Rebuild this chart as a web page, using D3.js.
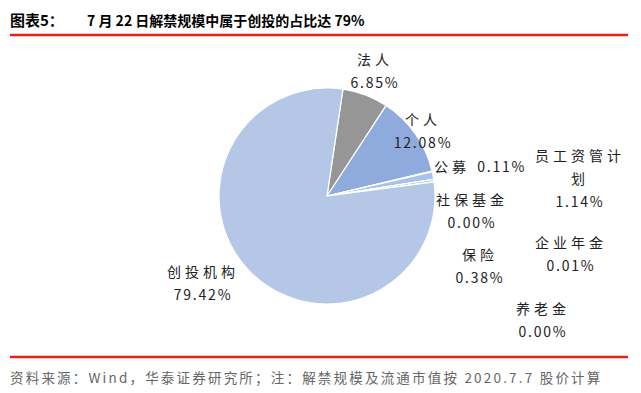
<!DOCTYPE html>
<html lang="zh">
<head>
<meta charset="UTF-8">
<script src="https://d3js.org/d3.v7.min.js"></script>
<style>
    body { margin: 0; background: #fff; }
    svg { display: block; font-family: "Noto Sans CJK SC", sans-serif; }
    .title { font-size: 15px; font-weight: bold; fill: #000; }
    .source { font-size: 13.5px; fill: #666; letter-spacing: 2.2px; }
    .lbl { font-size: 14px; fill: #222; }
    .cjk { letter-spacing: 4px; }
    .num { letter-spacing: 1.8px; }
    .rule { stroke: #e8201a; stroke-width: 2.5; }
</style>
</head>
<body>
<script>
// data
var names = ["法人", "个人", "公募", "员工资管计划", "社保基金", "保险", "企业年金", "养老金", "创投机构"];
var shares = [6.85, 12.08, 0.11, 1.14, 0.00, 0.38, 0.01, 0.00, 79.42];
var labelText = ["6.85%", "12.08%", "0.11%", "1.14%", "0.00%", "0.38%", "0.01%", "0.00%", "79.42%"];
var colors = ["#969696", "#8faadc", "#9db7e2", "#a9c2ea", "#b4c7e7", "#b4c7e7", "#b4c7e7", "#b4c7e7", "#b4c7e7"];

var W = 641, H = 393;
var cx = 327, cy = 196, R = 108;

var svg = d3.select("body").append("svg").attr("width", W).attr("height", H);

svg.append("text").attr("class", "title").attr("x", 10).attr("y", 26).text("图表5：");
svg.append("text").attr("class", "title").attr("x", 87).attr("y", 26)
    .style("font-size", "14px")
    .text("7 月 22 日解禁规模中属于创投的占比达 79%");
svg.append("line").attr("class", "rule").attr("x1", 10).attr("x2", 628).attr("y1", 35).attr("y2", 35);
svg.append("line").attr("class", "rule").attr("x1", 10).attr("x2", 628).attr("y1", 357).attr("y2", 357);
svg.append("text").attr("class", "source").attr("x", 10).attr("y", 383)
    .text("资料来源：Wind，华泰证券研究所；注：解禁规模及流通市值按 2020.7.7 股价计算");

var pie = d3.pie().sort(null).value(function(d) { return d; })
    .startAngle(8.5 * Math.PI / 180).endAngle(368.5 * Math.PI / 180);
var arc = d3.arc().innerRadius(0).outerRadius(R);

var g = svg.append("g").attr("transform", "translate(" + cx + "," + cy + ")");
g.selectAll("path").data(pie(shares)).enter().append("path")
    .attr("d", arc)
    .attr("fill", function(d, i) { return colors[i]; })
    .attr("stroke", "#fff").attr("stroke-width", 1.2);

// label positions (centre x, first line baseline)
var labelPos = [
    [375, 65], [423, 125], null, [580, 161], [472, 205], [480, 260], [571, 248], [543, 314], [203, 277]
];
labelPos.forEach(function(p, i) {
    if (!p) return;
    var lines = names[i] === "员工资管计划" ? ["员工资管计", "划"] : [names[i]];
    var t = svg.append("text").attr("class", "lbl").attr("text-anchor", "middle");
    lines.forEach(function(s, k) {
        t.append("tspan").attr("class", "cjk").attr("x", p[0]).attr("y", p[1] + k * 23).text(s);
    });
    t.append("tspan").attr("class", "num").attr("x", p[0]).attr("y", p[1] + lines.length * 23).text(labelText[i]);
});
var gm = svg.append("text").attr("class", "lbl").attr("x", 434).attr("y", 172);
gm.append("tspan").attr("class", "cjk").text(names[2] + " ");
gm.append("tspan").attr("class", "num").text(labelText[2]);
</script>
</body>
</html>
